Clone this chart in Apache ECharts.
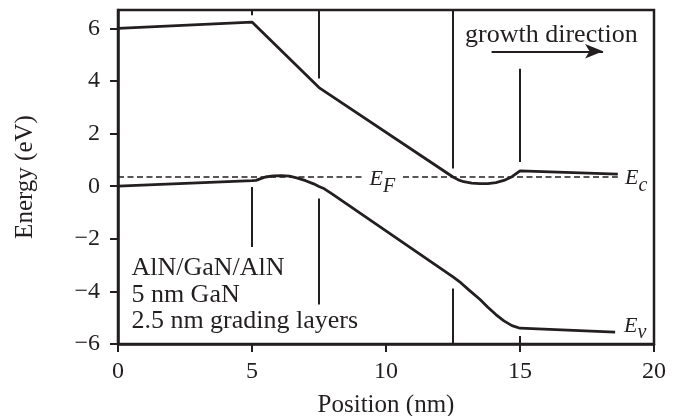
<!DOCTYPE html>
<html>
<head>
<meta charset="utf-8">
<script src="https://cdn.jsdelivr.net/npm/echarts@6/dist/echarts.min.js"></script>
<style>
html,body{margin:0;padding:0;background:#fff;}
#chart{width:685px;height:416px;}
</style>
</head>
<body>
<div id="chart"></div>
<script>
// ---- data ----
const xTicks = [0, 5, 10, 15, 20];
const yTicks = [-6, -4, -2, 0, 2, 4, 6];

// conduction band Ec
const ecX = [0, 5, 7.5, 12.5, 12.7, 12.9, 13.2, 13.5, 13.8, 14.1, 14.4, 14.7, 15, 18.65];
const ecY = [6.0, 6.24, 3.75, 0.35, 0.24, 0.17, 0.12, 0.10, 0.10, 0.14, 0.22, 0.36, 0.58, 0.46];

// valence band Ev
const evX = [0, 5, 5.15, 5.3, 5.5, 5.8, 6.1, 6.4, 6.7, 7.0, 7.3, 7.5, 7.7, 8.0, 12.5, 12.8, 13.1, 13.5, 13.8, 14.1, 14.4, 14.7, 15, 18.55];
const evY = [0, 0.21, 0.22, 0.28, 0.35, 0.39, 0.40, 0.38, 0.31, 0.21, 0.09, -0.01, -0.1, -0.3, -3.45, -3.68, -3.95, -4.3, -4.6, -4.88, -5.12, -5.3, -5.4, -5.55];

// Fermi level
const efX = [0, 18.65];
const efY = [0.35, 0.35];

// interface marker segments: [x, yStart, yEnd]
const markerX  = [5, 5, 7.5, 7.5, 12.5, 12.5, 15, 15];
const markerY0 = [6.7, -0.03, 6.7, -0.47, 6.7, -3.89, 4.47, -5.7];
const markerY1 = [6.5, -2.31, 4.1, -4.5, 0.67, -6.0, 0.92, -6.0];

// text annotations
const noteLines = ['AlN/GaN/AlN', '5 nm GaN', '2.5 nm grading layers'];
const noteX = [0.5, 0.5, 0.5];
const noteY = [-3.11, -4.13, -5.14];
const growthText = 'growth direction';
const growthPos = [12.95, 5.76];
const arrowFrom = [13.94, 5.13];
const arrowTo = [18.1, 5.13];
const bandLabels = [['E', 'F'], ['E', 'c'], ['E', 'v']];
const bandLabelX = [9.2, 18.92, 18.88];
const bandLabelY = [0.68, 0.72, -4.9];

// ---- chart ----
const INK = '#231f20';
const FONT = '"Liberation Serif", "Times New Roman", serif';
const zip = (a, b) => a.map((v, i) => [v, b[i]]);

const series = [];
series.push({
  type: 'line', data: zip(efX, efY), symbol: 'none', silent: true,
  lineStyle: { color: INK, width: 1.3, type: [6, 3.5] }
});
series.push({
  type: 'line', data: zip(ecX, ecY), symbol: 'none', silent: true,
  lineStyle: { color: INK, width: 2.8 }
});
series.push({
  type: 'line', data: zip(evX, evY), symbol: 'none', silent: true,
  lineStyle: { color: INK, width: 2.8 }
});
markerX.forEach((x, i) => {
  series.push({
    type: 'line', data: [[x, markerY0[i]], [x, markerY1[i]]], symbol: 'none', silent: true,
    lineStyle: { color: INK, width: 2 }
  });
});
// arrow
series.push({
  type: 'line', data: [], silent: true,
  markLine: {
    silent: true, symbol: ['none', 'arrow'], symbolSize: [11, 18],
    lineStyle: { color: INK, width: 1.8, type: 'solid' },
    label: { show: false },
    data: [[{ coord: arrowFrom }, { coord: arrowTo }]]
  }
});

const chart = echarts.init(document.getElementById('chart'), null, { renderer: 'canvas' });
chart.setOption({
  animation: false,
  backgroundColor: '#fff',
  grid: { left: 118, right: 31, top: 10, bottom: 72, show: true, borderColor: INK, borderWidth: 2.5,
          backgroundColor: 'transparent', containLabel: false, outerBoundsMode: 'none' },
  xAxis: {
    type: 'value', min: 0, max: 20, interval: 5,
    name: 'Position (nm)', nameLocation: 'middle', nameGap: 49,
    nameTextStyle: { fontFamily: FONT, fontSize: 25, color: INK },
    axisLine: { show: true, onZero: false, lineStyle: { color: INK, width: 2.5 } },
    axisTick: { show: true, length: 8, lineStyle: { color: INK, width: 2 }, customValues: xTicks },
    axisLabel: { fontFamily: FONT, fontSize: 24, color: INK, margin: 16, customValues: xTicks },
    splitLine: { show: false }
  },
  yAxis: {
    type: 'value', min: -6, max: 6.7, interval: 2,
    name: 'Energy (eV)', nameLocation: 'middle', nameGap: 80, nameRotate: 90,
    nameTextStyle: { fontFamily: FONT, fontSize: 25, color: INK },
    axisLine: { show: true, onZero: false, lineStyle: { color: INK, width: 2.5 } },
    axisTick: { show: true, length: 8, lineStyle: { color: INK, width: 2 }, customValues: yTicks },
    axisLabel: { fontFamily: FONT, fontSize: 24, color: INK, margin: 18, customValues: yTicks,
      formatter: v => String(v).replace('-', '\u2212') },
    splitLine: { show: false }
  },
  series: series
});

// text annotations placed through the chart's own coordinate conversion
const px = (p) => chart.convertToPixel({ gridIndex: 0 }, p);
const graphics = [];
noteLines.forEach((s, i) => {
  const p = px([noteX[i], noteY[i]]);
  graphics.push({ type: 'text', x: p[0], y: p[1], z: 100, silent: true,
    style: { text: s, font: '26px ' + FONT, fill: INK, align: 'left', verticalAlign: 'middle' } });
});
{
  const p = px(growthPos);
  graphics.push({ type: 'text', x: p[0], y: p[1], z: 100, silent: true,
    style: { text: growthText, font: '26px ' + FONT, fill: INK, align: 'left', verticalAlign: 'middle' } });
}
bandLabels.forEach((b, i) => {
  const p = px([bandLabelX[i], bandLabelY[i]]);
  const style = {
    text: '{e|' + b[0] + '}{s|' + b[1] + '}', align: 'left', verticalAlign: 'top', fill: INK,
    rich: {
      e: { fontFamily: FONT, fontStyle: 'italic', fontSize: 22, lineHeight: 22, verticalAlign: 'top', fill: INK },
      s: { fontFamily: FONT, fontStyle: 'italic', fontSize: 20, lineHeight: 20, verticalAlign: 'top', padding: [8, 0, 0, 0], fill: INK }
    }
  };
  if (i === 0) { style.backgroundColor = '#fff'; style.padding = [0, 5, 0, 5]; }
  graphics.push({ type: 'text', x: p[0], y: p[1], z: 100, silent: true, style: style });
});
chart.setOption({ graphic: graphics });
</script>
</body>
</html>
